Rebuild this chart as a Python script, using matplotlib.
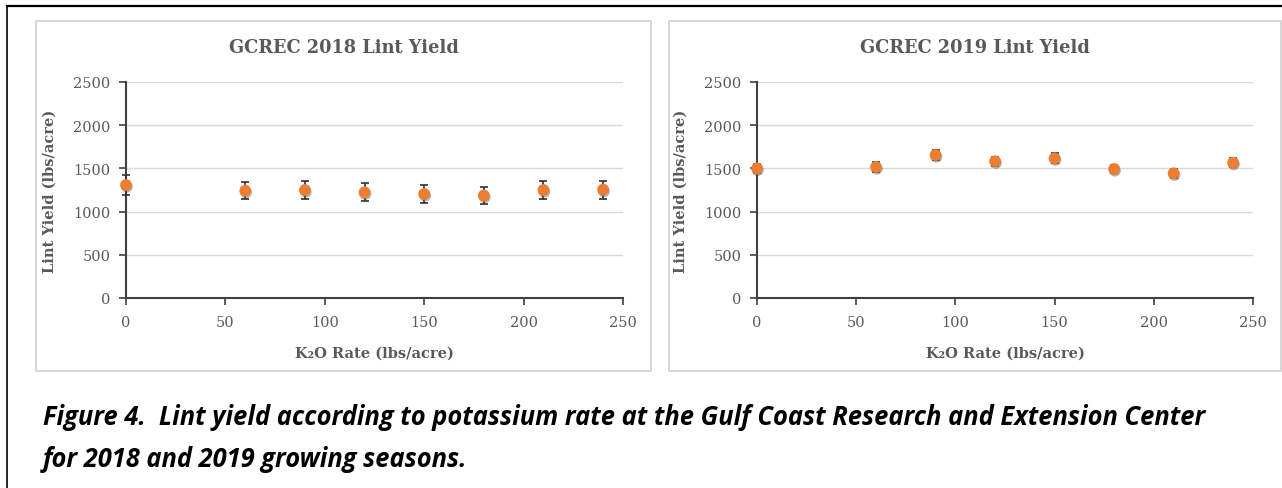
import matplotlib
matplotlib.use("Agg")
import matplotlib.pyplot as plt
from matplotlib.patches import Rectangle
from matplotlib.lines import Line2D
import matplotlib.patheffects as pe

rates = [0, 60, 90, 120, 150, 180, 210, 240]
yield_2018 = [1308, 1242, 1250, 1223, 1204, 1186, 1250, 1254]
err_2018 = [115, 100, 100, 103, 106, 102, 100, 103]
yield_2019 = [1500, 1516, 1655, 1582, 1617, 1493, 1443, 1566]
err_2019 = [50, 55, 60, 55, 58, 52, 55, 55]
titles = ["GCREC 2018 Lint Yield", "GCREC 2019 Lint Yield"]
xticks = [0, 50, 100, 150, 200, 250]
yticks = [0, 500, 1000, 1500, 2000, 2500]
xlabel = "K\u2082O Rate (lbs/acre)"
ylabel = "Lint Yield (lbs/acre)"
caption_lines = ["Figure 4.  Lint yield according to potassium rate at the Gulf Coast Research and Extension Center",
                 "for 2018 and 2019 growing seasons."]

W, H = 1282, 489
fig = plt.figure(figsize=(W / 100, H / 100), dpi=100)
fig.patch.set_facecolor("white")

serif = ["DejaVu Serif"]
gray = "#595959"

# outer border lines (top and left)
fig.add_artist(Line2D([7 / W, 1], [1 - 7 / H, 1 - 7 / H], color="black", lw=1.6, transform=fig.transFigure))
fig.add_artist(Line2D([7 / W, 7 / W], [0, 1 - 7 / H], color="black", lw=1.2, transform=fig.transFigure))

# panel boxes
for (x0, x1) in [(36, 651), (669, 1281)]:
    fig.add_artist(Rectangle((x0 / W, 1 - 372 / H), (x1 - x0) / W, 350 / H,
                             transform=fig.transFigure, facecolor="white",
                             edgecolor="#D0D0D0", lw=1.2, zorder=0))

axes_px = [(126, 623), (757, 1253)]
data = [(yield_2018, err_2018), (yield_2019, err_2019)]
panel_centers = [(36 + 651) / 2, (669 + 1281) / 2]

for i, ((xa, xb), (yv, ev)) in enumerate(zip(axes_px, data)):
    ax = fig.add_axes([xa / W, 1 - 299 / H, (xb - xa) / W, 216 / H])
    ax.set_facecolor("none")
    ax.set_xlim(0, 250)
    ax.set_ylim(0, 2500)
    ax.set_xticks(xticks)
    ax.set_yticks(yticks)
    ax.grid(axis="y", color="#D9D9D9", lw=1.0)
    ax.set_axisbelow(True)
    for s in ["top", "right"]:
        ax.spines[s].set_visible(False)
    for s in ["left", "bottom"]:
        ax.spines[s].set_color("#404040")
        ax.spines[s].set_linewidth(1.5)
    ax.tick_params(axis="both", direction="out", length=5, width=1.2, color="#404040",
                   labelcolor=gray, labelsize=10.5)
    ax.tick_params(axis="x", pad=7)
    ax.tick_params(axis="y", pad=6)
    for lab in ax.get_xticklabels() + ax.get_yticklabels():
        lab.set_family(serif)
    ax.errorbar(rates, yv, yerr=ev, fmt="none", ecolor="#303030", elinewidth=1.2,
                capsize=2.8, capthick=1.2, zorder=3, clip_on=False)
    ax.plot(rates, yv, "o", color="#ED7D31", markersize=8.5, markeredgewidth=0,
            zorder=4, clip_on=False,
            path_effects=[pe.SimplePatchShadow(offset=(0.6, -1.2), shadow_rgbFace="#555555", alpha=0.45),
                          pe.Normal()])
    ax.set_xlabel(xlabel, family=serif, fontsize=10.5, fontweight="bold", color=gray, labelpad=12)
    ax.set_ylabel(ylabel, family=serif, fontsize=10.5, fontweight="bold", color=gray, labelpad=12)
    fig.text(panel_centers[i] / W, 1 - 48 / H, titles[i], family=serif, fontsize=12.8,
             fontweight="bold", color=gray, ha="center", va="center")

for yline, txt in zip([418, 460], caption_lines):
    fig.text(43 / W, 1 - yline / H, txt, family=["Open Sans", "DejaVu Sans"], fontsize=18.4,
             fontweight="bold", fontstyle="italic", color="black", ha="left", va="center")

fig.savefig("out.png", dpi=100, facecolor="white")
